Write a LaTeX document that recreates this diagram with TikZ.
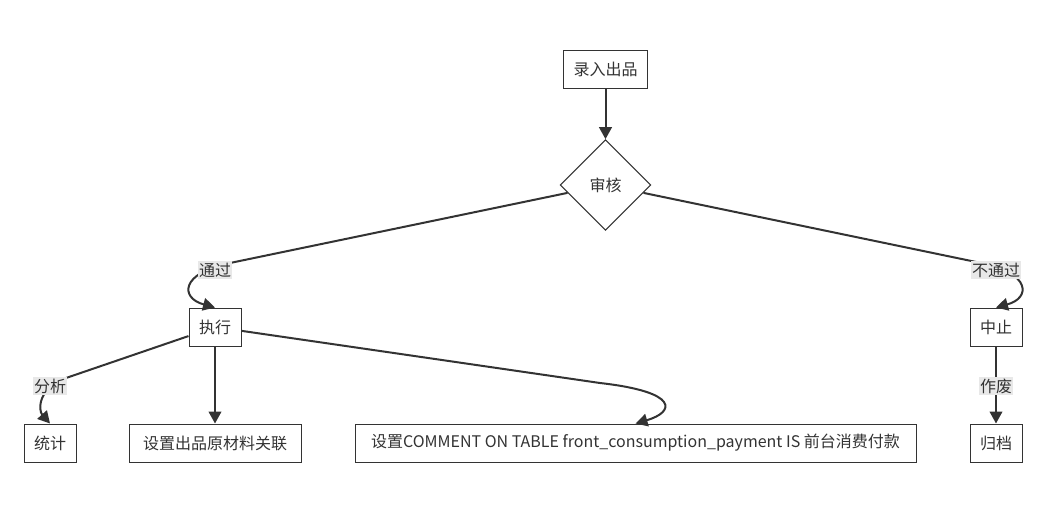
\documentclass[tikz,border=0pt]{standalone}
\usepackage{fontspec}
\usepackage{tikz}
\usetikzlibrary{shapes.geometric,arrows.meta}
\setmainfont{Noto Sans CJK SC}
\definecolor{edgegray}{HTML}{333333}
\definecolor{labelgray}{HTML}{E8E8E8}

\begin{document}
\begin{tikzpicture}[x=0.75pt,y=-0.75pt,
  box/.style={draw=edgegray,line width=0.75pt,fill=white,inner xsep=7.5pt,
    minimum height=28.5pt,text=edgegray,font=\fontsize{12}{14}\selectfont},
  check/.style={diamond,draw=edgegray,line width=0.75pt,fill=white,inner sep=0pt,
    minimum width=68pt,minimum height=68pt,text=edgegray,font=\fontsize{12}{14}\selectfont},
  lbl/.style={fill=labelgray,inner sep=1pt,text=edgegray,font=\fontsize{12}{14}\selectfont},
  arr/.style={draw=edgegray,line width=1.5pt,-{Triangle[length=9pt,width=9.5pt]}}]
  \useasboundingbox (0,0) rectangle (1046,514);

  \node[box] (in) at (605.5,69) {录入出品};
  \node[check] (chk) at (605.5,185) {审核};
  \node[box] (ex) at (215,327) {执行};
  \node[box] (stop) at (996,327) {中止};
  \node[box] (stat) at (50,443) {统计};
  \node[box,minimum width=129pt] (mat) at (215,443) {设置出品原材料关联};
  \node[box,minimum width=420.75pt] (cmt) at (635.5,443) {设置COMMENT ON TABLE front\_consumption\_payment IS 前台消费付款};
  \node[box] (arch) at (996,443) {归档};

  % Draw edges
  \draw[arr] (in) -- (chk);
  \draw[arr] (chk) -- (230,263) .. controls (180,273) and (180,298) .. (ex.north); % left
  \draw[arr] (chk) -- (981,263) .. controls (1031,273) and (1031,298) .. (stop.north); % right
  \draw[arr] (ex) -- (66,378) .. controls (38,388) and (38,410) .. (stat.north); % left
  \draw[arr] (ex) -- (mat);
  \draw[arr] (ex) -- (600,383) .. controls (680,392) and (675,412) .. (cmt.north); % right
  \draw[arr] (stop) -- (arch);

  % Edge labels
  \node[lbl] (pass) at (215,270) {通过};
  \node[lbl] (fail) at (996,270) {不通过};
  \node[lbl] (ana) at (50,386) {分析};
  \node[lbl] (void) at (996,386) {作废};
\end{tikzpicture}
\end{document}
